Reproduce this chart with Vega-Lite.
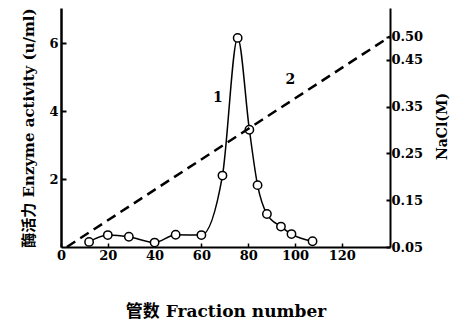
{
  "$schema": "https://vega.github.io/schema/vega-lite/v6.json",
  "autosize": "none",
  "width": 329,
  "height": 239,
  "padding": {"left": 61, "top": 8, "right": 69, "bottom": 83},
  "background": "white",
  "config": {
    "view": {"stroke": null},
    "axis": {
      "grid": false,
      "domainColor": "black",
      "tickColor": "black",
      "labelColor": "black",
      "titleColor": "black",
      "labelFont": "DejaVu Serif",
      "labelFontWeight": "bold",
      "labelFontSize": 13,
      "titleFont": "DejaVu Serif, Noto Sans CJK SC",
      "titleFontWeight": "bold"
    }
  },
  "datasets": {
    "enzyme": [
      {"fraction": 12, "activity": 0.15},
      {"fraction": 20, "activity": 0.35},
      {"fraction": 29, "activity": 0.3},
      {"fraction": 40, "activity": 0.13},
      {"fraction": 49, "activity": 0.36},
      {"fraction": 60, "activity": 0.35},
      {"fraction": 69, "activity": 2.1},
      {"fraction": 75.5, "activity": 6.15},
      {"fraction": 80.5, "activity": 3.45},
      {"fraction": 84, "activity": 1.82},
      {"fraction": 88, "activity": 0.97},
      {"fraction": 94, "activity": 0.6},
      {"fraction": 98.5, "activity": 0.38},
      {"fraction": 107.5, "activity": 0.17}
    ],
    "nacl": [
      {"fraction": 2.5, "nacl": 0.05},
      {"fraction": 140.6, "nacl": 0.5}
    ],
    "labels": [
      {"fraction": 67, "activity": 4.38, "label": "1"},
      {"fraction": 98, "activity": 4.9, "label": "2"}
    ]
  },
  "encoding": {
    "x": {
      "field": "fraction",
      "type": "quantitative",
      "scale": {"domain": [0, 140.6], "nice": false, "zero": false},
      "axis": {
        "values": [0, 20, 40, 60, 80, 100, 120],
        "title": "管数 Fraction number",
        "titleFontSize": 17,
        "titlePadding": 41,
        "domainWidth": 2,
        "tickSize": -4,
        "tickWidth": 1.5,
        "labelPadding": 6,
        "labelFlush": false
      }
    }
  },
  "layer": [
    {
      "layer": [
        {
          "data": {"name": "enzyme"},
          "mark": {"type": "line", "interpolate": "monotone", "color": "black", "strokeWidth": 1.5},
          "encoding": {
            "y": {
              "field": "activity",
              "type": "quantitative",
              "scale": {"domain": [0, 7.03], "nice": false},
              "axis": {
                "values": [2, 4, 6],
                "title": "酶活力 Enzyme activity (u/ml)",
                "titleFontSize": 15,
                "titlePadding": 12,
                "domainWidth": 2.5,
                "tickSize": -5,
                "tickWidth": 2,
                "labelPadding": 8
              }
            }
          }
        },
        {
          "data": {"name": "enzyme"},
          "mark": {"type": "point", "shape": "circle", "filled": true, "fill": "white", "stroke": "black", "strokeWidth": 1.5, "size": 70, "opacity": 1},
          "encoding": {"y": {"field": "activity", "type": "quantitative"}}
        },
        {
          "data": {"name": "labels"},
          "mark": {"type": "text", "font": "DejaVu Serif", "fontWeight": "bold", "fontSize": 14, "color": "black"},
          "encoding": {
            "y": {"field": "activity", "type": "quantitative"},
            "text": {"field": "label"}
          }
        }
      ]
    },
    {
      "data": {"name": "nacl"},
      "mark": {"type": "line", "color": "black", "strokeWidth": 2.5, "strokeDash": [10, 6]},
      "encoding": {
        "y": {
          "field": "nacl",
          "type": "quantitative",
          "scale": {"domain": [0.05, 0.561], "nice": false, "zero": false},
          "axis": {
            "orient": "right",
            "values": [0.05, 0.15, 0.25, 0.35, 0.45, 0.5],
            "format": ".2f",
            "title": "NaCl(M)",
            "titleAngle": 270,
            "titleFontSize": 14,
            "titleX": 52,
            "titleY": 118,
            "titleAlign": "center",
            "titleBaseline": "middle",
            "domainWidth": 2,
            "tickSize": -4,
            "tickWidth": 2,
            "labelPadding": 5
          }
        }
      }
    }
  ],
  "resolve": {"scale": {"y": "independent"}}
}
